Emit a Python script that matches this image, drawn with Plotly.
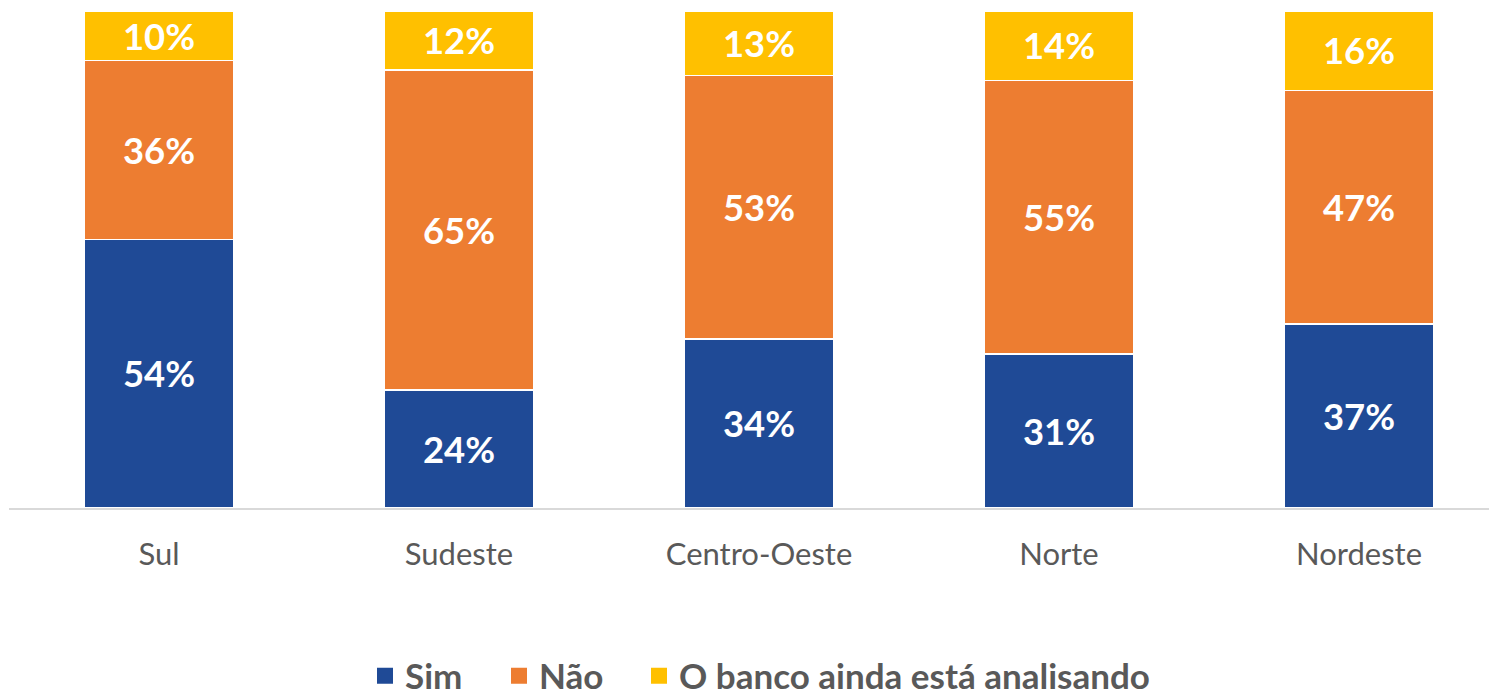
import plotly.graph_objects as go

categories = ["Sul", "Sudeste", "Centro-Oeste", "Norte", "Nordeste"]
sim = [54, 24, 34, 31, 37]
nao = [36, 65, 53, 55, 47]
analisando = [10, 12, 13, 14, 16]

series = [
    ("Sim", sim, "#1F4A96"),
    ("Não", nao, "#ED7D31"),
    ("O banco ainda está analisando", analisando, "#FFC000"),
]
legend_ids = ["legend", "legend2", "legend3"]
legend_left_px = [365, 499, 639]

fig = go.Figure()
for name, vals, color in series:
    fig.add_trace(go.Bar(
        name=name,
        x=categories,
        y=vals,
        text=[f"{v}%" for v in vals],
        textposition="inside",
        insidetextanchor="middle",
        textangle=0,
        textfont=dict(family="Lato", size=40, color="white", weight="bold"),
        marker=dict(color=color, line=dict(color="white", width=1.5)),
        hoverinfo="skip",
        showlegend=False,
        legendgroup=name,
    ))
# legend entries with square symbols
for (name, vals, color), lid in zip(series, legend_ids):
    fig.add_trace(go.Scatter(
        name=name,
        x=[categories[0]],
        y=[None],
        mode="markers",
        marker=dict(symbol="square", size=17, color=color),
        legendgroup=name,
        legend=lid,
        showlegend=True,
        hoverinfo="skip",
    ))

legend_font = dict(family="Lato", size=35, color="#595959", weight="bold")
legend_cfg = {}
for lid, lx in zip(legend_ids, legend_left_px):
    legend_cfg[lid] = dict(
        orientation="h",
        x=(lx - 9) / 1480,
        xanchor="left",
        y=-0.338,
        yanchor="middle",
        font=legend_font,
        itemwidth=30,
        bgcolor="rgba(0,0,0,0)",
    )

fig.update_layout(
    barmode="stack",
    barnorm="percent",
    bargap=0.5,
    width=1489,
    height=697,
    margin=dict(l=9, r=0, t=11, b=189, autoexpand=False),
    plot_bgcolor="white",
    paper_bgcolor="white",
    uniformtext=dict(minsize=10, mode="show"),
    xaxis=dict(
        type="category",
        range=[-0.5, 1480 / 300 - 0.5],
        showline=True,
        linecolor="#D9D9D9",
        linewidth=2,
        ticks="",
        ticklabelstandoff=18,
        tickfont=dict(family="Lato", size=31, color="#595959"),
        showgrid=False,
    ),
    yaxis=dict(range=[0, 100], visible=False),
    showlegend=True,
    **legend_cfg,
)

fig.write_html("out.html", post_script="document.body.style.margin='0';",
               config={"displayModeBar": False})
